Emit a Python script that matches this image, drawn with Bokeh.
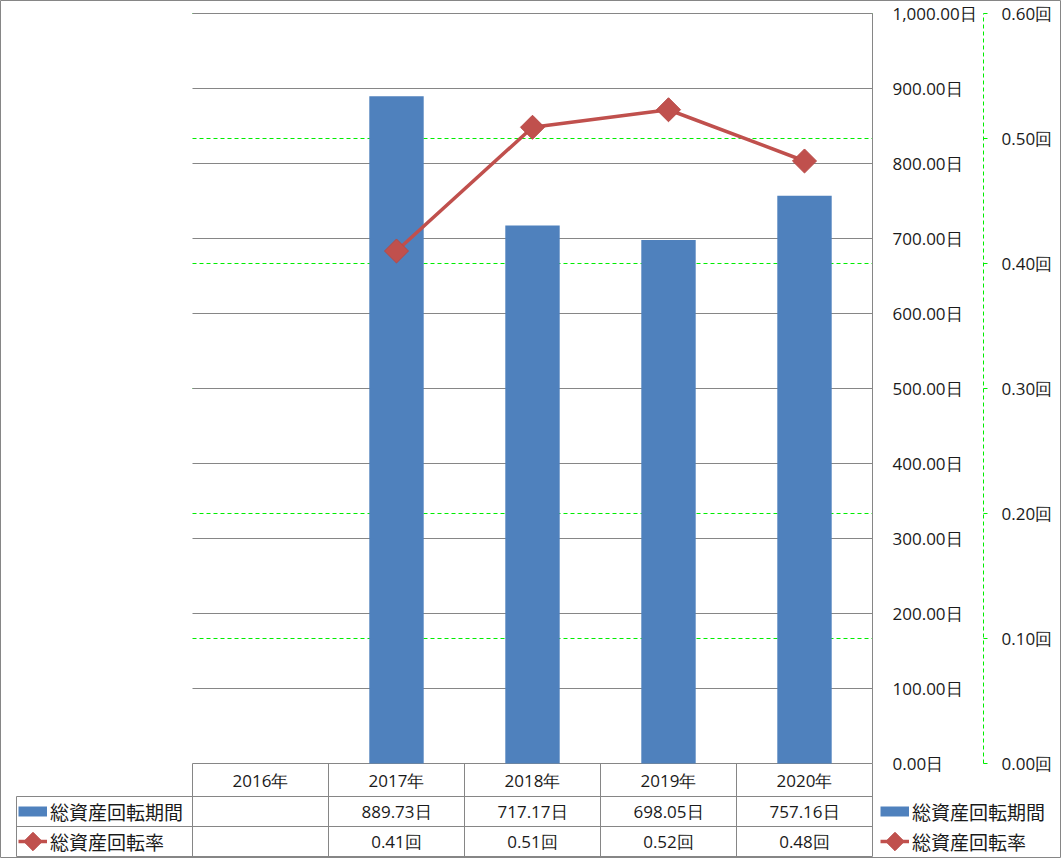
import math
from bokeh.plotting import figure
from bokeh.models import Range1d, ColumnDataSource, Legend, LegendItem
from bokeh.core.properties import value
from bokeh.embed import file_html
from bokeh.resources import INLINE

# ---------------- data ----------------
years = ["2016年", "2017年", "2018年", "2019年", "2020年"]
period_days = [None, 889.73, 717.17, 698.05, 757.16]      # 総資産回転期間 (日)
turnover_rate = [None, 0.410, 0.509, 0.523, 0.482]         # 総資産回転率 (回)
period_text = ["", "889.73日", "717.17日", "698.05日", "757.16日"]
rate_text = ["", "0.41回", "0.51回", "0.52回", "0.48回"]
day_ticks = [0, 100, 200, 300, 400, 500, 600, 700, 800, 900, 1000]
day_tick_labels = ["0.00日", "100.00日", "200.00日", "300.00日", "400.00日", "500.00日",
                   "600.00日", "700.00日", "800.00日", "900.00日", "1,000.00日"]
rate_ticks = [0.0, 0.1, 0.2, 0.3, 0.4, 0.5, 0.6]
rate_tick_labels = ["0.00回", "0.10回", "0.20回", "0.30回", "0.40回", "0.50回", "0.60回"]
series_names = ["総資産回転期間", "総資産回転率"]

# ---------------- layout (pixels) ----------------
W, H = 1061, 858
PL, PR, PT, PB = 192, 872, 13, 763          # plot area
DAY_MAX, RATE_MAX = day_ticks[-1], rate_ticks[-1]
CW = (PR - PL) / len(years)
DPX = DAY_MAX / (PB - PT)
RATIO = RATE_MAX / DAY_MAX


def X(px):
    return (px - PL) / CW - 0.5


def Y(py):
    return (PB - py) * DPX


ROW_HEAD, ROW_1, ROW_2, ROW_END = 796, 826, 856, 856
TABLE_LEFT = 16
SEC_AXIS_X = 983
LEG_GLYPH_W, LEG_ROW_H = 29, 30
LEGEND_X = [18, 880]

BLUE = "#4F81BD"
RED = "#C0504D"
RED_EDGE = "#B84845"
GRID = "#868686"
GREEN = "#00EE00"
FONT = "Open Sans"
TXT = "#1a1a1a"

p = figure(width=W, height=H, x_range=Range1d(X(0), X(W)), y_range=Range1d(Y(H), Y(0)),
           x_axis_type=None, y_axis_type=None, min_border=0, toolbar_location=None,
           output_backend="svg", outline_line_color=GRID, outline_line_width=1,
           background_fill_color="white", border_fill_color="white")
p.extra_y_ranges = {"rate": Range1d(Y(H) * RATIO, Y(0) * RATIO)}
p.grid.visible = False

idx = list(range(len(years)))
has = [i for i in idx if period_days[i] is not None]

# secondary gridlines (green dashed)
sec = [t for t in rate_ticks if t > 0]
p.segment(x0=[X(PL)] * len(sec), x1=[X(PR)] * len(sec), y0=sec, y1=sec, y_range_name="rate",
          line_color=GREEN, line_width=1, line_dash="4 3")
# primary gridlines
p.segment(x0=[X(PL)] * len(day_ticks), x1=[X(PR)] * len(day_ticks), y0=day_ticks, y1=day_ticks,
          line_color=GRID, line_width=1)

# bars
bar_src = ColumnDataSource(dict(x=has, top=[period_days[i] for i in has]))
bars = p.vbar(x="x", top="top", bottom=0, width=0.4, source=bar_src, fill_color=BLUE, line_color=None)

# primary axis line
p.segment(x0=[X(PR)], x1=[X(PR)], y0=[0], y1=[DAY_MAX], line_color=GRID, line_width=1)
# secondary axis (green dashed) + ticks
p.segment(x0=[X(SEC_AXIS_X)], x1=[X(SEC_AXIS_X)], y0=[0], y1=[RATE_MAX], y_range_name="rate",
          line_color=GREEN, line_width=1, line_dash="4 3")
p.segment(x0=[X(SEC_AXIS_X)] * len(rate_ticks), x1=[X(SEC_AXIS_X + 4)] * len(rate_ticks),
          y0=rate_ticks, y1=rate_ticks, y_range_name="rate", line_color=GREEN, line_width=1)

# data table grid
rows = [ROW_HEAD, ROW_1, ROW_2]
p.segment(x0=[X(TABLE_LEFT)] * 3, x1=[X(PR)] * 3, y0=[Y(r) for r in rows], y1=[Y(r) for r in rows],
          line_color=GRID, line_width=1)
bounds = [i - 0.5 for i in range(len(years) + 1)]
p.segment(x0=bounds, x1=bounds, y0=[0] * len(bounds), y1=[Y(ROW_END)] * len(bounds),
          line_color=GRID, line_width=1)
p.segment(x0=[X(TABLE_LEFT)], x1=[X(TABLE_LEFT)], y0=[Y(ROW_HEAD)], y1=[Y(ROW_END)],
          line_color=GRID, line_width=1)

# line series on secondary axis
line_src = ColumnDataSource(dict(x=has, y=[turnover_rate[i] for i in has]))
ln = p.line(x="x", y="y", source=line_src, y_range_name="rate", line_color=RED, line_width=3.5,
            line_join="round")
mk = p.scatter(x="x", y="y", source=line_src, y_range_name="rate", marker="square", size=17,
               angle=math.pi / 4, fill_color=RED, line_color=RED_EDGE, line_width=1, line_join="round")

# legend key for the bar series (thick line swatch; no visible data)
nan = float("nan")
bar_key = p.line(x=[nan, nan], y=[nan, nan], line_color=BLUE, line_width=10)

# tick labels
p.text(x=[X(892)] * len(day_ticks), y=day_ticks, text=day_tick_labels, text_align="left",
       text_baseline="middle", text_font=value(FONT), text_font_size="17px", text_color=TXT)
p.text(x=[X(1001)] * len(rate_ticks), y=rate_ticks, text=rate_tick_labels, text_align="left",
       text_baseline="middle", text_font=value(FONT), text_font_size="17px", text_color=TXT,
       y_range_name="rate")

# table texts
p.text(x=idx, y=[Y((PB + ROW_HEAD) / 2)] * len(idx), text=years, text_align="center",
       text_baseline="middle", text_font=value(FONT), text_font_size="17px", text_color=TXT)
p.text(x=idx, y=[Y((ROW_HEAD + ROW_1) / 2)] * len(idx), text=period_text, text_align="center",
       text_baseline="middle", text_font=value(FONT), text_font_size="17px", text_color=TXT)
p.text(x=idx, y=[Y((ROW_1 + ROW_2) / 2)] * len(idx), text=rate_text, text_align="center",
       text_baseline="middle", text_font=value(FONT), text_font_size="17px", text_color=TXT)


def make_legend(vx):
    return Legend(items=[LegendItem(label=series_names[0], renderers=[bar_key]),
                         LegendItem(label=series_names[1], renderers=[ln])],
                  location=(vx, H - ROW_END), orientation="vertical", glyph_width=LEG_GLYPH_W,
                  glyph_height=LEG_ROW_H, spacing=0, padding=0, margin=0, label_standoff=3,
                  label_height=LEG_ROW_H, label_text_font="Noto Sans CJK JP",
                  label_text_font_size="19px", label_text_color=TXT, label_text_baseline="middle",
                  border_line_alpha=0, background_fill_alpha=0)


for vx in LEGEND_X:
    p.add_layout(make_legend(vx))

# diamond marks of the legend keys (Bokeh legends do not rotate markers)
key_y = ROW_END - LEG_ROW_H / 2
p.scatter(x=[X(vx + LEG_GLYPH_W / 2) for vx in LEGEND_X], y=[Y(key_y)] * len(LEGEND_X),
          marker="square", size=13, angle=math.pi / 4, fill_color=RED, line_color=RED_EDGE,
          line_width=1, line_join="round", level="overlay")

open("out.html", "w").write(file_html(p, INLINE))
